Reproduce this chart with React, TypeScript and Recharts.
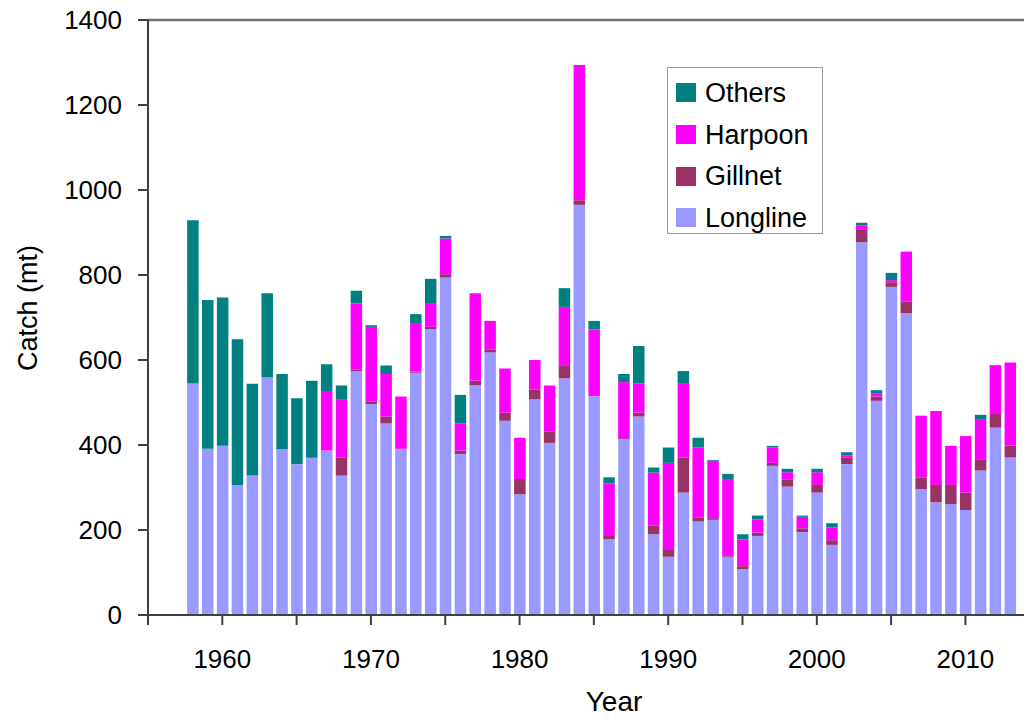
import React from 'react';
import { BarChart, Bar, XAxis, YAxis, ReferenceLine, Legend } from 'recharts';

const years = [
  1958, 1959, 1960, 1961, 1962, 1963, 1964, 1965, 1966, 1967,
  1968, 1969, 1970, 1971, 1972, 1973, 1974, 1975, 1976, 1977,
  1978, 1979, 1980, 1981, 1982, 1983, 1984, 1985, 1986, 1987,
  1988, 1989, 1990, 1991, 1992, 1993, 1994, 1995, 1996, 1997,
  1998, 1999, 2000, 2001, 2002, 2003, 2004, 2005, 2006, 2007,
  2008, 2009, 2010, 2011, 2012, 2013,
];

const longline = [
  545, 391, 398, 306, 328, 559, 390, 355, 370, 387,
  328, 574, 496, 451, 391, 570, 673, 794, 379, 541,
  618, 457, 284, 508, 405, 557, 965, 515, 178, 414,
  467, 190, 137, 288, 220, 224, 137, 108, 186, 351,
  302, 195, 288, 165, 355, 877, 504, 772, 710, 296,
  265, 261, 247, 340, 441, 371,
];

const gillnet = [
  0, 0, 0, 0, 0, 0, 0, 0, 0, 0,
  43, 3, 6, 16, 0, 3, 5, 8, 8, 10,
  7, 19, 36, 23, 26, 29, 11, 0, 10, 2,
  9, 20, 16, 82, 10, 4, 2, 7, 8, 7,
  16, 9, 18, 11, 16, 29, 10, 11, 27, 28,
  41, 45, 41, 25, 32, 27,
];

const harpoon = [
  0, 0, 0, 0, 0, 0, 0, 0, 0, 140,
  137, 156, 176, 100, 123, 112, 56, 84, 64, 206,
  67, 104, 97, 69, 109, 139, 318, 157, 122, 132,
  69, 125, 205, 174, 164, 135, 179, 63, 31, 36,
  18, 27, 30, 30, 5, 11, 8, 5, 118, 145,
  172, 92, 133, 96, 115, 196,
];

const others = [
  384, 350, 349, 343, 216, 198, 177, 155, 181, 63,
  32, 30, 4, 20, 0, 23, 57, 6, 67, 0,
  0, 0, 0, 0, 0, 44, 0, 20, 14, 19,
  88, 12, 36, 30, 23, 2, 14, 12, 9, 4,
  8, 3, 8, 10, 7, 6, 7, 17, 0, 0,
  2, 0, 0, 10, 0, 0,
];

const yTicks = [0, 200, 400, 600, 800, 1000, 1200, 1400];
const xTicks = [1955, 1960, 1965, 1970, 1975, 1980, 1985, 1990, 1995, 2000, 2005, 2010];

const seriesKeys = ['longline', 'gillnet', 'harpoon', 'others'];
const seriesNames = ['Longline', 'Gillnet', 'Harpoon', 'Others'];
const seriesColors = ['#9999FF', '#993366', '#FF00FF', '#008080'];

const FONT = '"Liberation Sans", Arial, Helvetica, sans-serif';

const data = years.map((year, i) => ({
  year,
  longline: longline[i],
  gillnet: gillnet[i],
  harpoon: harpoon[i],
  others: others[i],
}));

const XTick = (props: any) => {
  const { x, y, payload } = props;
  if (payload.value % 10 !== 0 || payload.value < 1960) return <g />;
  return (
    <text x={x} y={y} dy="0.71em" textAnchor="middle" fontSize={26} fontFamily={FONT} fill="#000">
      {payload.value}
    </text>
  );
};

const YTick = (props: any) => {
  const { x, y, payload } = props;
  return (
    <text x={x} y={y} dy="0.355em" textAnchor="end" fontSize={26} fontFamily={FONT} fill="#000">
      {payload.value}
    </text>
  );
};

const LegendBox = () => {
  const order = [3, 2, 1, 0];
  return (
    <div
      style={{
        width: 156,
        height: 167,
        boxSizing: 'border-box',
        border: '1.5px solid #9a9a9a',
        background: '#fff',
        paddingTop: 4,
        fontFamily: FONT,
      }}
    >
      {order.map((i) => (
        <div key={seriesKeys[i]} style={{ height: 41.7, display: 'flex', alignItems: 'center' }}>
          <div style={{ width: 20, height: 19, background: seriesColors[i], marginLeft: 8, marginRight: 9 }} />
          <span style={{ fontSize: 27, color: '#000', lineHeight: '28px' }}>{seriesNames[i]}</span>
        </div>
      ))}
    </div>
  );
};

export default function App() {
  return (
    <div style={{ width: 1024, height: 720, marginTop: -8 }}>
      <BarChart
        width={1024}
        height={720}
        data={data}
        margin={{ top: 20, right: 0, left: 0, bottom: 0 }}
      >
        <XAxis
          dataKey="year"
          type="number"
          domain={[1955, 2014.48]}
          allowDataOverflow
          ticks={xTicks}
          interval={0}
          height={105}
          tickSize={10}
          tickMargin={25}
          tick={<XTick />}
          axisLine={{ stroke: '#404040', strokeWidth: 2 }}
          tickLine={{ stroke: '#404040', strokeWidth: 2 }}
          label={() => (
            <text x={606} y={711} textAnchor="middle" fontSize={28} fontFamily={FONT} fill="#000">
              Year
            </text>
          )}
        />
        <YAxis
          type="number"
          domain={[0, 1400]}
          ticks={yTicks}
          interval={0}
          width={140}
          tickSize={10}
          tickMargin={16}
          tick={<YTick />}
          axisLine={{ stroke: '#404040', strokeWidth: 2 }}
          tickLine={{ stroke: '#404040', strokeWidth: 2 }}
          label={() => (
            <text
              x={19.5}
              y={308}
              textAnchor="middle"
              dominantBaseline="central"
              fontSize={27}
              fontFamily={FONT}
              fill="#000"
              transform="rotate(-90 19.5 308)"
            >
              Catch (mt)
            </text>
          )}
        />
        <ReferenceLine y={1400} stroke="#707070" strokeWidth={2.5} />
        {seriesKeys.map((k, i) => (
          <Bar
            key={k}
            dataKey={k}
            name={seriesNames[i]}
            stackId="a"
            fill={seriesColors[i]}
            barSize={11.5}
            isAnimationActive={false}
          />
        ))}
        <Legend
          layout="vertical"
          align="center"
          verticalAlign="middle"
          wrapperStyle={{ left: 659, top: 67, width: 156, height: 167 }}
          content={() => <LegendBox />}
        />
      </BarChart>
    </div>
  );
}
